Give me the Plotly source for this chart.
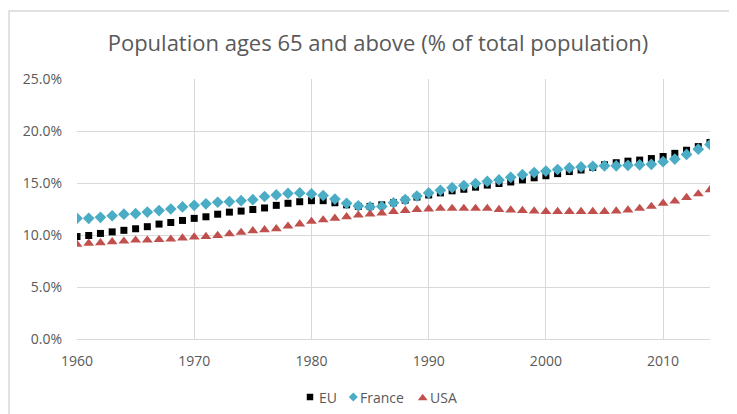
import plotly.graph_objects as go

years = list(range(1960, 2015))

eu = [9.85, 9.95, 10.15, 10.3, 10.45, 10.6, 10.8, 11.05, 11.2, 11.4,
      11.6, 11.75, 12.0, 12.2, 12.3, 12.45, 12.6, 12.85, 13.05, 13.2,
      13.3, 13.3, 13.1, 12.9, 12.75, 12.75, 12.9, 13.1, 13.35, 13.65,
      13.85, 14.05, 14.25, 14.4, 14.6, 14.8, 14.95, 15.1, 15.3, 15.5,
      15.7, 15.9, 16.1, 16.25, 16.5, 16.75, 16.95, 17.1, 17.2, 17.35,
      17.55, 17.85, 18.15, 18.5, 18.9]

france = [11.6, 11.6, 11.7, 11.85, 12.0, 12.05, 12.2, 12.35, 12.5, 12.7,
          12.85, 13.0, 13.15, 13.2, 13.3, 13.4, 13.7, 13.85, 14.0, 14.05,
          13.95, 13.8, 13.45, 13.05, 12.8, 12.7, 12.75, 13.1, 13.4, 13.75,
          14.05, 14.3, 14.55, 14.75, 14.95, 15.15, 15.3, 15.55, 15.8, 16.0,
          16.15, 16.3, 16.45, 16.55, 16.6, 16.65, 16.65, 16.7, 16.75, 16.8,
          17.05, 17.3, 17.75, 18.25, 18.7]

usa = [9.1, 9.2, 9.25, 9.35, 9.4, 9.5, 9.5, 9.55, 9.6, 9.7,
       9.8, 9.85, 9.95, 10.1, 10.25, 10.4, 10.5, 10.6, 10.85, 11.05,
       11.3, 11.45, 11.6, 11.75, 11.9, 12.0, 12.1, 12.25, 12.35, 12.45,
       12.5, 12.55, 12.55, 12.55, 12.55, 12.55, 12.45, 12.4, 12.35, 12.3,
       12.25, 12.25, 12.25, 12.25, 12.25, 12.25, 12.3, 12.4, 12.55, 12.75,
       13.05, 13.25, 13.6, 13.95, 14.35]

series_names = ["EU", "France", "USA"]
series_colors = ["#000000", "#4BACC6", "#C0504D"]
series_symbols = ["square", "diamond", "triangle-up"]

x_ticks = [1960, 1970, 1980, 1990, 2000, 2010]
y_ticks = [0, 5, 10, 15, 20, 25]
y_tick_labels = ["0.0%", "5.0%", "10.0%", "15.0%", "20.0%", "25.0%"]

title_text = "Population ages 65 and above (% of total population)"

W, H = 737, 414
font_family = "Open Sans, Liberation Sans, sans-serif"
grey = "#595959"
grid = "#D9D9D9"

# plot area in figure pixels
PL, PR, PT, PB = 69, 702, 71, 331

fig = go.Figure()
data = [eu, france, usa]
sizes = [7, 9, 9.5]
for name, vals, col, sym, sz in zip(series_names, data, series_colors, series_symbols, sizes):
    fig.add_trace(go.Scatter(x=years, y=vals, mode="markers", name=name,
                             marker=dict(symbol=sym, size=sz, color=col),
                             showlegend=False))

# legend (overlay axes in figure pixel coordinates)
leg_marker_x = [302, 345.3, 414.7]
leg_text_x = [308.7, 350.3, 420]
leg_y = 389
leg_sizes = [6.5, 7, 8.5]
for name, col, sym, mx, sz in zip(series_names, series_colors, series_symbols, leg_marker_x, leg_sizes):
    fig.add_trace(go.Scatter(x=[mx], y=[leg_y + (1 if sym == "triangle-up" else 0)],
                             mode="markers", xaxis="x2", yaxis="y2",
                             marker=dict(symbol=sym, size=sz, color=col),
                             showlegend=False, hoverinfo="skip"))

annotations = []
for name, tx in zip(series_names, leg_text_x):
    annotations.append(dict(text=name, x=tx, y=leg_y, xref="x2", yref="y2",
                            xanchor="left", yanchor="middle", showarrow=False,
                            font=dict(size=14, color=grey, family=font_family)))

fig.update_layout(
    width=W, height=H,
    margin=dict(l=0, r=0, t=0, b=0),
    paper_bgcolor="white", plot_bgcolor="rgba(0,0,0,0)",
    font=dict(family=font_family, color=grey, size=14),
    title=dict(text=title_text, x=370 / W, xref="container", xanchor="center",
               y=1 - 35 / H, yref="container", yanchor="middle",
               font=dict(size=22, color=grey, family=font_family)),
    showlegend=False,
    xaxis=dict(domain=[PL / W, PR / W], range=[1960, 2014], tickvals=x_ticks,
               showgrid=True, gridcolor=grid, gridwidth=1, zeroline=False,
               showline=True, linecolor=grid, ticks="", ticklabelstandoff=9,
               automargin=False, tickfont=dict(size=14, color=grey)),
    yaxis=dict(domain=[(H - PB) / H, (H - PT) / H], range=[0, 25], tickvals=y_ticks,
               ticktext=y_tick_labels, showgrid=True, gridcolor=grid, gridwidth=1,
               zeroline=False, showline=False, ticks="", ticklabelstandoff=14,
               automargin=False, tickfont=dict(size=14, color=grey)),
    xaxis2=dict(domain=[0, 1], range=[0, W], visible=False, fixedrange=True),
    yaxis2=dict(domain=[0, 1], range=[H, 0], visible=False, fixedrange=True,
                anchor="x2"),
    annotations=annotations,
    shapes=[dict(type="rect", xref="x2", yref="y2",
                 x0=1, x1=W + 20, y0=3, y1=H + 20,
                 line=dict(color=grid, width=1.5), fillcolor="rgba(0,0,0,0)",
                 layer="below")],
)
fig.update_layout(xaxis2_anchor="y2")

fig.write_html("out.html")
